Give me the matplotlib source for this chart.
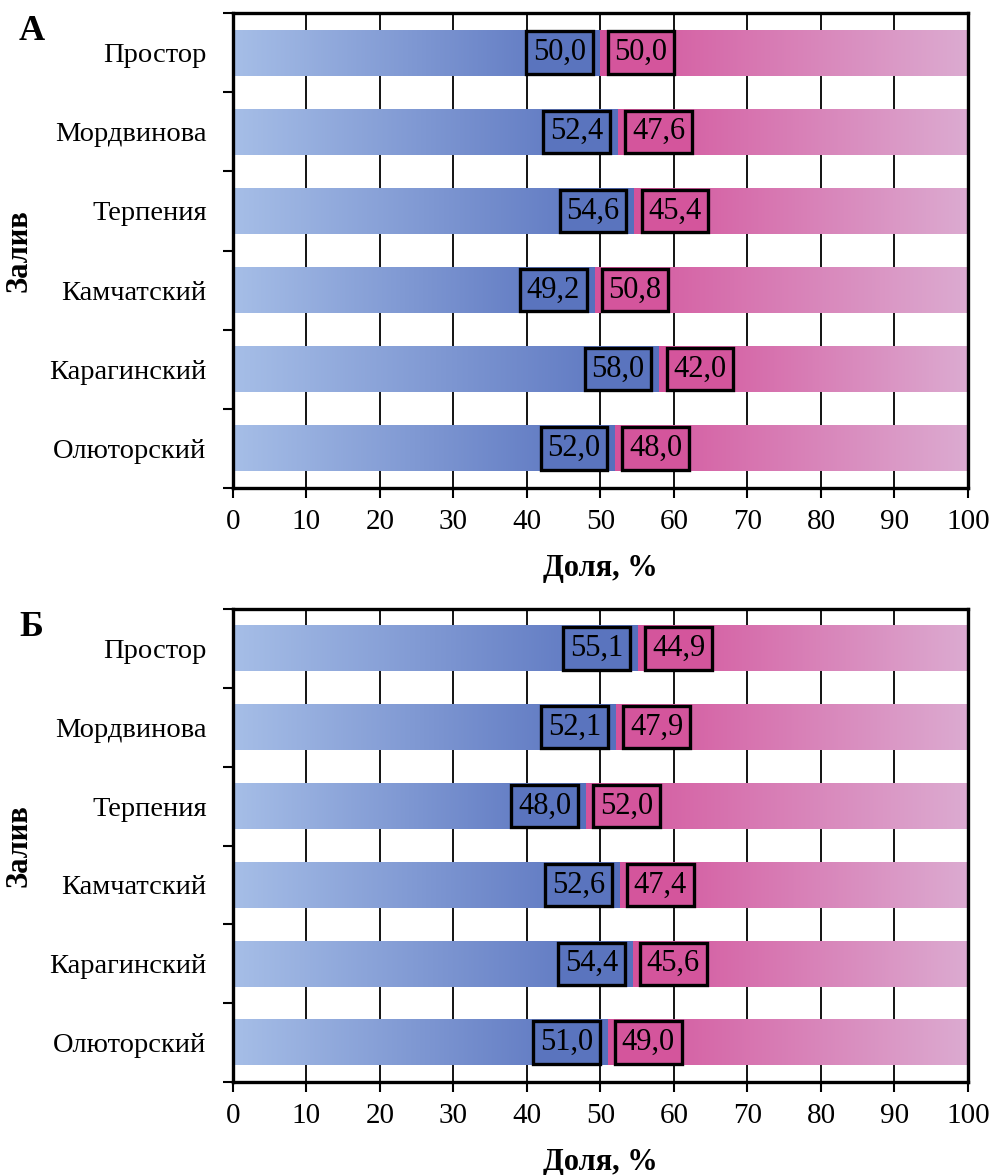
import numpy as np
import matplotlib; matplotlib.use("Agg")
import matplotlib.pyplot as plt
from matplotlib.colors import LinearSegmentedColormap

plt.rcParams["font.family"] = ["Liberation Serif", "DejaVu Serif"]

BAYS = ["Простор", "Мордвинова", "Терпения", "Камчатский", "Карагинский", "Олюторский"]

# share of each group, %, per bay
A_BLUE = [50.0, 52.4, 54.6, 49.2, 58.0, 52.0]
A_PINK = [50.0, 47.6, 45.4, 50.8, 42.0, 48.0]
B_BLUE = [55.1, 52.1, 48.0, 52.6, 54.4, 51.0]
B_PINK = [44.9, 47.9, 52.0, 47.4, 45.6, 49.0]

BLUE_CM = LinearSegmentedColormap.from_list("blue", ["#a6bee7", "#5670bd"])
PINK_CM = LinearSegmentedColormap.from_list("pink", ["#d4529b", "#dcabd1"])
BLUE_BOX = "#5a74be"
PINK_BOX = "#d4559c"

W, H = 995, 1175
GRAD = np.linspace(0, 1, 256).reshape(1, -1)


def fmt(v):
    return f"{v:.1f}".replace(".", ",")


def panel(fig, rect_px, blue, pink, letter):
    left, top, right, bottom = rect_px
    ax = fig.add_axes([left / W, 1 - bottom / H, (right - left) / W, (bottom - top) / H])
    n = len(BAYS)
    bh = 0.58
    for i, (b, p) in enumerate(zip(blue, pink)):
        y = i
        ax.imshow(GRAD, cmap=BLUE_CM, aspect="auto", interpolation="bilinear",
                  extent=[0, b, y + bh / 2, y - bh / 2], zorder=2)
        ax.imshow(GRAD, cmap=PINK_CM, aspect="auto", interpolation="bilinear",
                  extent=[b, b + p, y + bh / 2, y - bh / 2], zorder=2)
        ax.text(b - 2.0, y, fmt(b), ha="right", va="center", fontsize=22, zorder=4,
                bbox=dict(boxstyle="square,pad=0.22", fc=BLUE_BOX, ec="black", lw=2.4))
        ax.text(b + 1.9, y, fmt(p), ha="left", va="center", fontsize=22, zorder=4,
                bbox=dict(boxstyle="square,pad=0.22", fc=PINK_BOX, ec="black", lw=2.4))

    ax.set_xlim(0, 100)
    ax.set_ylim(n - 0.5, -0.5)
    ax.set_xticks(np.arange(0, 101, 10))
    ax.set_yticks(range(n))
    ax.set_yticklabels(BAYS)
    ax.set_yticks(np.arange(-0.5, n, 1.0), minor=True)
    ax.tick_params(axis="y", which="major", length=0, pad=19, labelsize=20.5)
    ax.tick_params(axis="y", which="minor", length=7, width=1.5, direction="out")
    ax.tick_params(axis="x", length=7, width=1.5, direction="out", labelsize=21, pad=8)
    ax.grid(axis="x", color="black", lw=1.3, zorder=0)
    ax.set_axisbelow(True)
    for s in ax.spines.values():
        s.set_linewidth(2.4)
        s.set_zorder(5)
    ax.set_xlabel("Доля, %", fontsize=22, fontweight="bold", labelpad=14)
    fig.text(19 / W, 1 - (top + bottom) / 2 / H, "Залив", rotation=90, fontsize=22,
             fontweight="bold", ha="center", va="center")
    fig.text(19 / W, 1 - (top + 18) / H, letter, fontsize=26, fontweight="bold",
             va="center", ha="left")
    return ax


fig = plt.figure(figsize=(W / 100, H / 100), dpi=100)
panel(fig, (233, 13, 968, 488), A_BLUE, A_PINK, "А")
panel(fig, (233, 609, 968, 1082), B_BLUE, B_PINK, "Б")
fig.savefig("out.png", dpi=100)
